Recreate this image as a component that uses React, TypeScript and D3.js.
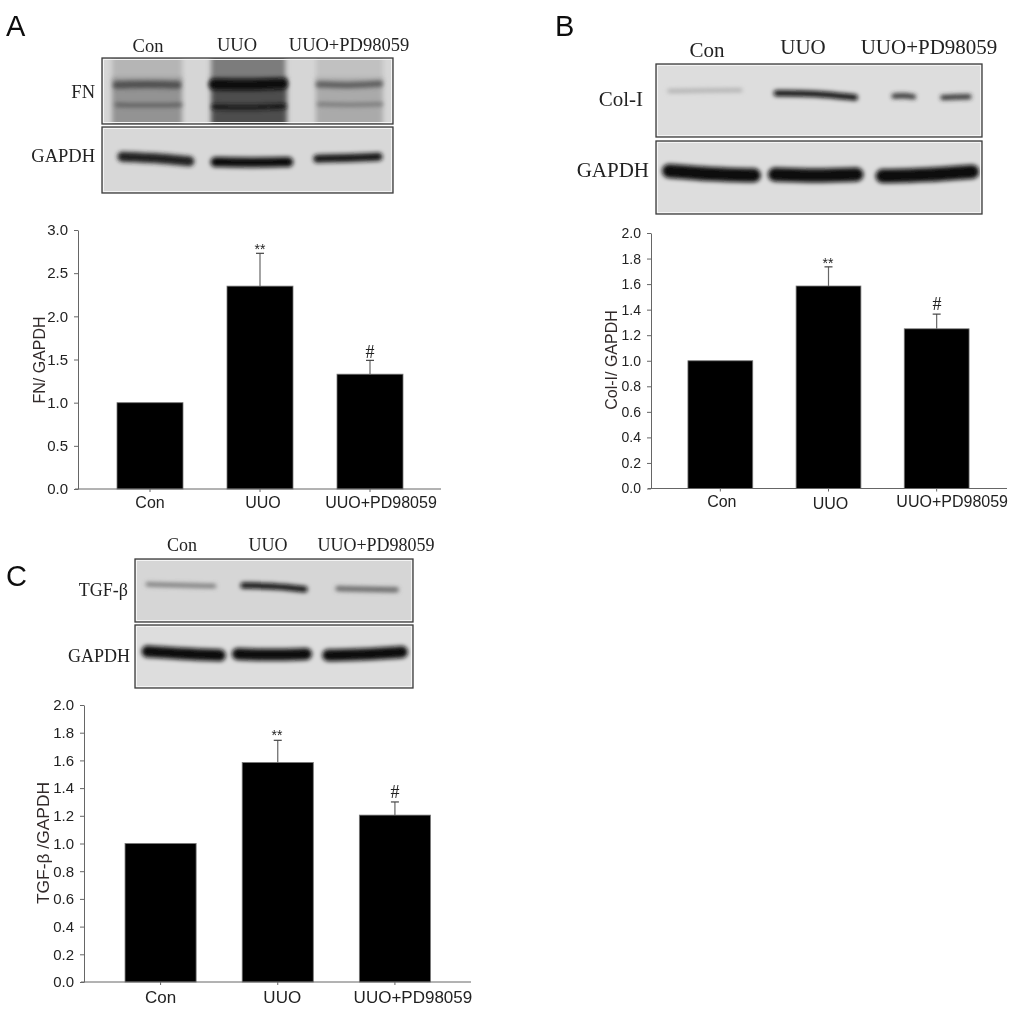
import * as d3 from 'd3';

const groups = ['Con', 'UUO', 'UUO+PD98059'];

const fnValues = [1.0, 2.35, 1.33];
const fnErrTop = [1.0, 2.73, 1.49];
const fnTicks = [0, 0.5, 1, 1.5, 2, 2.5, 3];

const colValues = [1.0, 1.585, 1.25];
const colErrTop = [1.0, 1.735, 1.365];
const colTicks = [0, 0.2, 0.4, 0.6, 0.8, 1, 1.2, 1.4, 1.6, 1.8, 2];

const tgfValues = [1.0, 1.585, 1.205];
const tgfErrTop = [1.0, 1.745, 1.3];

const marks = ['', '**', '#'];

// blot bands, all in fractions of the blot box, density 0 = white, 1 = black
const fnSmears = [
	{ from: 0.035, to: 0.275, top: -0.1, bottom: 0.35, density: 0.27 },
	{ from: 0.035, to: 0.275, top: 0.3, bottom: 1.1, density: 0.42 },
	{ from: 0.375, to: 0.63, top: -0.1, bottom: 0.35, density: 0.52 },
	{ from: 0.375, to: 0.635, top: 0.3, bottom: 1.1, density: 0.72 },
	{ from: 0.735, to: 0.965, top: -0.1, bottom: 0.35, density: 0.22 },
	{ from: 0.735, to: 0.965, top: 0.3, bottom: 1.1, density: 0.32 },
];
const fnBands = [
	{ from: 0.05, to: 0.26, ys: [0.41, 0.4, 0.41], weight: 7, density: 0.72 },
	{ from: 0.05, to: 0.27, ys: [0.71, 0.72, 0.71], weight: 3.5, density: 0.68 },
	{ from: 0.385, to: 0.62, ys: [0.4, 0.41, 0.39], weight: 11, density: 1 },
	{ from: 0.385, to: 0.625, ys: [0.74, 0.75, 0.73], weight: 5, density: 0.95 },
	{ from: 0.745, to: 0.955, ys: [0.4, 0.42, 0.39], weight: 6, density: 0.66 },
	{ from: 0.745, to: 0.96, ys: [0.7, 0.71, 0.7], weight: 3.5, density: 0.56 },
];
const colBands = [
	{ from: 0.04, to: 0.26, ys: [0.37, 0.36, 0.36], weight: 3.5, density: 0.32 },
	{ from: 0.37, to: 0.61, ys: [0.4, 0.4, 0.46], weight: 6, density: 1 },
	{ from: 0.73, to: 0.79, ys: [0.44, 0.43, 0.45], weight: 5, density: 0.85 },
	{ from: 0.88, to: 0.96, ys: [0.46, 0.45, 0.45], weight: 5, density: 0.85 },
];
const tgfBands = [
	{ from: 0.045, to: 0.285, ys: [0.4, 0.42, 0.43], weight: 4, density: 0.55 },
	{ from: 0.39, to: 0.61, ys: [0.42, 0.43, 0.48], weight: 6, density: 1 },
	{ from: 0.73, to: 0.94, ys: [0.47, 0.48, 0.49], weight: 5, density: 0.62 },
];
const gapdhA = [
	{ from: 0.07, to: 0.3, ys: [0.45, 0.47, 0.52], weight: 10, density: 0.9 },
	{ from: 0.39, to: 0.64, ys: [0.53, 0.54, 0.53], weight: 10, density: 0.98 },
	{ from: 0.74, to: 0.95, ys: [0.48, 0.47, 0.45], weight: 8, density: 0.95 },
];
const gapdhB = [
	{ from: 0.04, to: 0.3, ys: [0.41, 0.46, 0.47], weight: 14, density: 1 },
	{ from: 0.365, to: 0.615, ys: [0.46, 0.48, 0.46], weight: 14, density: 1 },
	{ from: 0.695, to: 0.97, ys: [0.48, 0.47, 0.42], weight: 14, density: 1 },
];
const gapdhC = [
	{ from: 0.045, to: 0.305, ys: [0.42, 0.46, 0.48], weight: 12, density: 0.98 },
	{ from: 0.37, to: 0.615, ys: [0.46, 0.48, 0.46], weight: 12, density: 0.98 },
	{ from: 0.695, to: 0.96, ys: [0.48, 0.47, 0.43], weight: 12, density: 0.98 },
];

const gray = d3.scaleLinear<string>().domain([0, 1]).range(['#f4f4f4', '#0c0c0c']);
const bandLine = d3.line<number[]>().x((d) => d[0]).y((d) => d[1]).curve(d3.curveBasis);

function Blot({ id, x, y, w, h, bg, bands, smears = [] }: any) {
	const sx = d3.scaleLinear().domain([0, 1]).range([x, x + w]);
	const sy = d3.scaleLinear().domain([0, 1]).range([y, y + h]);
	return (
		<g>
			<clipPath id={id}>
				<rect x={x} y={y} width={w} height={h} />
			</clipPath>
			<g clipPath={`url(#${id})`}>
				<rect x={x} y={y} width={w} height={h} fill={gray(bg)} />
				{smears.map((s: any, i: number) => (
					<rect
						key={i}
						x={sx(s.from)}
						y={sy(s.top)}
						width={sx(s.to) - sx(s.from)}
						height={sy(s.bottom) - sy(s.top)}
						fill={gray(s.density)}
						filter='url(#smear)'
					/>
				))}
				{bands.map((b: any, i: number) => {
					const mid = (b.from + b.to) / 2;
					const pts = [
						[sx(b.from), sy(b.ys[0])],
						[sx(mid), sy(b.ys[1])],
						[sx(b.to), sy(b.ys[2])],
					];
					return (
						<path
							key={i}
							d={bandLine(pts) as string}
							fill='none'
							stroke={gray(b.density)}
							strokeWidth={b.weight}
							strokeLinecap='round'
							filter='url(#band)'
						/>
					);
				})}
			</g>
			<rect x={x + 1.5} y={y + 1.5} width={w - 3} height={h - 3} fill='none' stroke='#f4f4f4' strokeWidth='1' />
			<rect x={x} y={y} width={w} height={h} fill='none' stroke='#3c3c3c' strokeWidth='1.3' />
		</g>
	);
}

function Labels({ items, size }: any) {
	return items.map((t: any, i: number) => (
		<text
			key={i}
			x={t.x}
			y={t.y}
			textAnchor={t.anchor ?? 'middle'}
			fontFamily='Liberation Serif'
			fontSize={size}
			fill='#222'
		>
			{t.text}
		</text>
	));
}

function BarPanel({ box, centers, bandW, values, errTop, ticks, yMax, tickSize, labelSize, labelPos, yLabel, markPos }: any) {
	const y = d3.scaleLinear().domain([0, yMax]).range([box.bottom, box.top]);
	const step = centers[1] - centers[0];
	const x = d3
		.scaleBand()
		.domain(groups)
		.range([centers[0] - step / 2, centers[2] + step / 2])
		.paddingInner(1 - bandW / step)
		.paddingOuter((1 - bandW / step) / 2);

	return (
		<g>
			{groups.map((g, i) => (
				<rect
					key={g}
					x={x(g)}
					y={y(values[i])}
					width={x.bandwidth()}
					height={y(0) - y(values[i])}
					fill='#000'
					stroke='#777'
					strokeWidth='0.8'
				/>
			))}

			{/* error bars, upper side only */}
			{groups.map((g, i) => {
				if (errTop[i] <= values[i]) return null;
				const cx = (x(g) as number) + x.bandwidth() / 2;
				return (
					<g key={g} stroke='#666' strokeWidth='1.2'>
						<line x1={cx} x2={cx} y1={y(values[i])} y2={y(errTop[i])} />
						<line x1={cx - 4} x2={cx + 4} y1={y(errTop[i])} y2={y(errTop[i])} stroke='#444' />
					</g>
				);
			})}

			{/* y axis */}
			<g
				transform={`translate(${box.left},0)`}
				ref={(node) => {
					if (!node) return;
					const g = d3.select(node);
					g.call(d3.axisLeft(y).tickValues(ticks).tickFormat(d3.format('.1f') as any).tickSize(4).tickPadding(6).tickSizeOuter(0));
					g.attr('font-family', 'Liberation Sans').attr('font-size', tickSize);
					g.selectAll('line,path').attr('stroke', '#666');
					g.selectAll('text').attr('fill', '#222');
				}}
			/>

			{/* x axis, labels sit off their ticks in the original */}
			<line x1={box.left - 3} x2={box.right} y1={box.bottom} y2={box.bottom} stroke='#666' strokeWidth='1' />
			<g
				transform={`translate(0,${box.bottom})`}
				ref={(node) => {
					if (!node) return;
					const g = d3.select(node);
					g.call(d3.axisBottom(x).tickSize(3).tickSizeOuter(0));
					g.select('.domain').remove();
					g.attr('font-family', 'Liberation Sans').attr('font-size', labelSize);
					g.selectAll('line').attr('stroke', '#666');
					g.selectAll('text')
						.attr('fill', '#222')
						.attr('x', (_, i) => labelPos[i].dx)
						.attr('y', (_, i) => labelPos[i].dy)
						.attr('dy', 0);
				}}
			/>

			<text
				transform={`translate(${yLabel.x},${yLabel.y}) rotate(-90)`}
				textAnchor='middle'
				fontFamily='Liberation Sans'
				fontSize={yLabel.size}
				fill='#332c2c'
			>
				{yLabel.text}
			</text>

			<text x={markPos[0].x} y={markPos[0].y} textAnchor='middle' fontFamily='Liberation Sans' fontSize='14' fill='#222'>
				{marks[1]}
			</text>
			<text x={markPos[1].x} y={markPos[1].y} textAnchor='middle' fontFamily='Liberation Serif' fontSize='18' fill='#222'>
				{marks[2]}
			</text>
		</g>
	);
}

export default function App() {
	return (
		<svg width={1024} height={1010} style={{ position: 'absolute', left: 0, top: 0 }}>
			<defs>
				<filter id='soft' filterUnits='userSpaceOnUse' x='0' y='0' width='1024' height='1010'>
					<feGaussianBlur stdDeviation='0.45' />
				</filter>
				<filter id='band' filterUnits='userSpaceOnUse' x='0' y='0' width='1024' height='1010'>
					<feGaussianBlur stdDeviation='2.2' />
				</filter>
				<filter id='smear' filterUnits='userSpaceOnUse' x='0' y='0' width='1024' height='1010'>
					<feGaussianBlur stdDeviation='2.5' />
				</filter>
			</defs>
			<rect width={1024} height={1010} fill='#fff' />

			<g filter='url(#soft)'>
				{/* Panel A */}
				<text x={6} y={36} fontFamily='Liberation Sans' fontSize='29' fill='#111'>A</text>
				<Labels
					size={18.5}
					items={[
						{ text: groups[0], x: 148, y: 52 },
						{ text: groups[1], x: 237, y: 51 },
						{ text: groups[2], x: 349, y: 51 },
						{ text: 'FN', x: 95, y: 98, anchor: 'end' },
						{ text: 'GAPDH', x: 95, y: 162, anchor: 'end' },
					]}
				/>
				<Blot id='a1' x={102} y={58} w={291} h={66} bg={0.13} bands={fnBands} smears={fnSmears} />
				<Blot id='a2' x={102} y={127} w={291} h={66} bg={0.12} bands={gapdhA} />
				<BarPanel
					box={{ left: 78, right: 441, top: 230, bottom: 489 }}
					centers={[150, 260, 370]}
					bandW={66}
					values={fnValues}
					errTop={fnErrTop}
					ticks={fnTicks}
					yMax={3}
					tickSize={15}
					labelSize={16}
					labelPos={[{ dx: 0, dy: 19 }, { dx: 3, dy: 19 }, { dx: 11, dy: 19 }]}
					yLabel={{ text: 'FN/ GAPDH', x: 45, y: 360, size: 16 }}
					markPos={[{ x: 260, y: 254 }, { x: 370, y: 358 }]}
				/>

				{/* Panel B */}
				<text x={555} y={36} fontFamily='Liberation Sans' fontSize='29' fill='#111'>B</text>
				<Labels
					size={21}
					items={[
						{ text: groups[0], x: 707, y: 57 },
						{ text: groups[1], x: 803, y: 54 },
						{ text: groups[2], x: 929, y: 54 },
						{ text: 'Col-I', x: 643, y: 106, anchor: 'end' },
						{ text: 'GAPDH', x: 649, y: 177, anchor: 'end' },
					]}
				/>
				<Blot id='b1' x={656} y={64} w={326} h={73} bg={0.1} bands={colBands} />
				<Blot id='b2' x={656} y={141} w={326} h={73} bg={0.1} bands={gapdhB} />
				<BarPanel
					box={{ left: 651, right: 1007, top: 233, bottom: 488.5 }}
					centers={[720.5, 829, 936.5]}
					bandW={65}
					values={colValues}
					errTop={colErrTop}
					ticks={colTicks}
					yMax={2}
					tickSize={14}
					labelSize={16}
					labelPos={[{ dx: 1.5, dy: 18 }, { dx: 2, dy: 20 }, { dx: 15.5, dy: 18 }]}
					yLabel={{ text: 'Col-I/ GAPDH', x: 617, y: 360, size: 16 }}
					markPos={[{ x: 828, y: 268 }, { x: 937, y: 310 }]}
				/>

				{/* Panel C */}
				<text x={6} y={586} fontFamily='Liberation Sans' fontSize='29' fill='#111'>C</text>
				<Labels
					size={18}
					items={[
						{ text: groups[0], x: 182, y: 551 },
						{ text: groups[1], x: 268, y: 551 },
						{ text: groups[2], x: 376, y: 551 },
						{ text: 'TGF-β', x: 128, y: 596, anchor: 'end' },
						{ text: 'GAPDH', x: 130, y: 662, anchor: 'end' },
					]}
				/>
				<Blot id='c1' x={135} y={559} w={278} h={63} bg={0.13} bands={tgfBands} />
				<Blot id='c2' x={135} y={625} w={278} h={63} bg={0.1} bands={gapdhC} />
				<BarPanel
					box={{ left: 84, right: 471, top: 705, bottom: 982 }}
					centers={[160.5, 277.5, 395]}
					bandW={71}
					values={tgfValues}
					errTop={tgfErrTop}
					ticks={colTicks}
					yMax={2}
					tickSize={15}
					labelSize={17}
					labelPos={[{ dx: 0, dy: 21 }, { dx: 4.5, dy: 21 }, { dx: 18, dy: 21 }]}
					yLabel={{ text: 'TGF-β /GAPDH', x: 49, y: 843, size: 17.4 }}
					markPos={[{ x: 277, y: 740 }, { x: 395, y: 798 }]}
				/>
			</g>
		</svg>
	);
}
